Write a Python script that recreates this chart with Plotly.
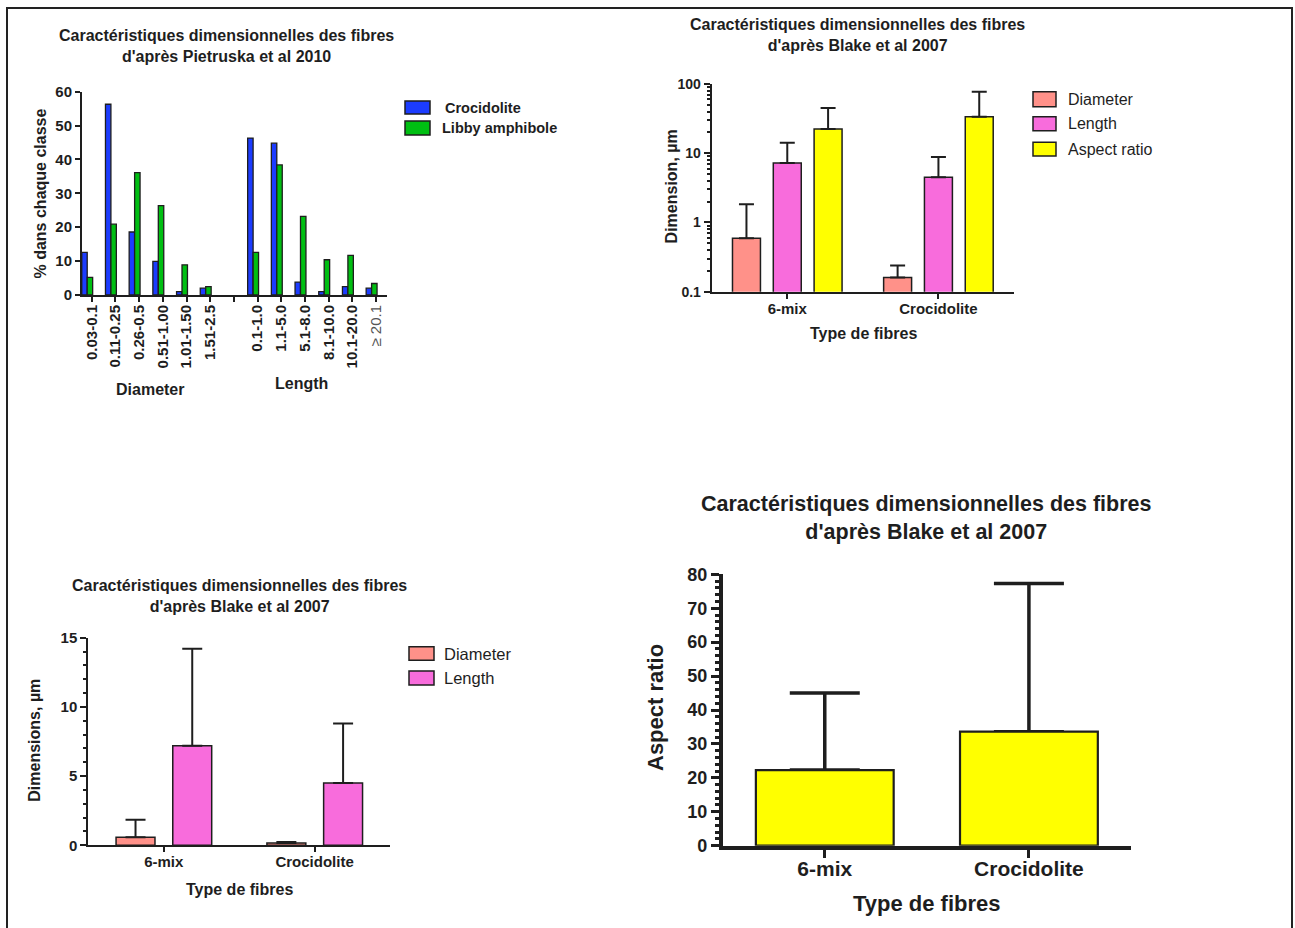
import plotly.graph_objects as go

W, H = 1295, 928


def px(x):
    return x / W


def py(y):
    return 1 - y / H


FONT = "Liberation Sans, Arial, sans-serif"
INK = "#1e1e1e"

# ---------------- Data: Pietruska et al 2010 ----------------
diam_classes = ["0.03-0.1", "0.11-0.25", "0.26-0.5", "0.51-1.00", "1.01-1.50", "1.51-2.5"]
len_classes = ["0.1-1.0", "1.1-5.0", "5.1-8.0", "8.1-10.0", "10.1-20.0", "≥ 20.1"]
croc_diam = [12.6, 56.3, 18.6, 9.9, 1.0, 2.0]
libby_diam = [5.2, 20.9, 36.1, 26.4, 8.9, 2.5]
croc_len = [46.3, 44.8, 3.8, 1.0, 2.5, 2.0]
libby_len = [12.6, 38.4, 23.2, 10.4, 11.7, 3.4]

# ---------------- Data: Blake et al 2007 ----------------
fibre_types = ["6-mix", "Crocidolite"]
diameter_mean = [0.59, 0.16]
diameter_sd = [1.25, 0.08]
length_mean = [7.2, 4.5]
length_sd = [7.0, 4.3]
aspect_mean = [22.3, 33.6]
aspect_sd = [22.7, 43.7]

C_CROC = "#1c3cff"
C_LIBBY = "#00bf12"
C_DIAM = "#ff9189"
C_LEN = "#f86cdc"
C_ASP = "#ffff00"

fig = go.Figure()

# ---------- Chart 1 (top-left) ----------
pos1 = list(range(len(diam_classes))) + [len(diam_classes) + 1 + i for i in range(len(len_classes))]
fig.add_trace(go.Bar(x=pos1, y=croc_diam + croc_len, name="Crocidolite",
                     width=0.23, offset=-0.23, marker=dict(color=C_CROC, line=dict(color=INK, width=1.3)),
                     xaxis="x", yaxis="y", showlegend=False))
fig.add_trace(go.Bar(x=pos1, y=libby_diam + libby_len, name="Libby amphibole",
                     width=0.23, offset=0.0, marker=dict(color=C_LIBBY, line=dict(color=INK, width=1.3)),
                     xaxis="x", yaxis="y", showlegend=False))

ticktext1 = diam_classes + [""] + len_classes[:-1] + [
    '<span style="font-weight:normal;color:#555">' + len_classes[-1] + "</span>"]
tickvals1 = [k + 0.19 for k in range(len(ticktext1))]

# ---------- Chart 2 (top-right, log) ----------
err_common = dict(type="data", symmetric=False, arrayminus=[0, 0], color=INK)
for name, m, s, col, off in [("Diameter", diameter_mean, diameter_sd, C_DIAM, -0.3625),
                             ("Length", length_mean, length_sd, C_LEN, -0.0925),
                             ("Aspect ratio", aspect_mean, aspect_sd, C_ASP, 0.1775)]:
    fig.add_trace(go.Bar(x=fibre_types, y=m, name=name, width=0.185, offset=off,
                         marker=dict(color=col, line=dict(color=INK, width=1.5)),
                         error_y=dict(array=s, thickness=2, width=7.5, **err_common),
                         xaxis="x2", yaxis="y2", showlegend=False))

# ---------- Chart 3 (bottom-left, linear) ----------
for name, m, s, col, off in [("Diameter", diameter_mean, diameter_sd, C_DIAM, -0.316),
                             ("Length", length_mean, length_sd, C_LEN, 0.06)]:
    fig.add_trace(go.Bar(x=fibre_types, y=m, name=name, width=0.258, offset=off,
                         marker=dict(color=col, line=dict(color=INK, width=1.5)),
                         error_y=dict(array=s, thickness=2, width=10, **err_common),
                         xaxis="x3", yaxis="y3", showlegend=False))

# ---------- Chart 4 (bottom-right, aspect ratio) ----------
# SD whiskers drawn first (transparent bar), so the yellow bar drawn next hides the lower cap
fig.add_trace(go.Bar(x=fibre_types, y=aspect_mean, name="Aspect ratio SD", width=0.675, offset=-0.3375,
                     marker=dict(color="rgba(0,0,0,0)", line=dict(width=0)),
                     error_y=dict(array=aspect_sd, thickness=3.5, width=35, **err_common),
                     xaxis="x4", yaxis="y4", showlegend=False, hoverinfo="skip"))
fig.add_trace(go.Bar(x=fibre_types, y=aspect_mean, name="Aspect ratio", width=0.675, offset=-0.3375,
                     marker=dict(color=C_ASP, line=dict(color=INK, width=2.2)),
                     xaxis="x4", yaxis="y4", showlegend=False))


def tf(size, bold=True):
    return dict(family=FONT, size=size, color=INK, weight="bold" if bold else "normal")


axis_base = dict(showgrid=False, zeroline=False, showline=True, linecolor=INK, ticks="outside",
                 tickcolor=INK, fixedrange=True, automargin=False)

log_minor = [m * 10 ** e for e in (-1, 0, 1) for m in range(2, 10)]

fig.update_layout(
    width=W, height=H, margin=dict(l=0, r=0, t=0, b=0, pad=0, autoexpand=False),
    paper_bgcolor="white", plot_bgcolor="rgba(0,0,0,0)",
    barmode="overlay", showlegend=False,
    xaxis=dict(axis_base, domain=[px(82), px(387)], anchor="y", range=[-0.22, 12.65],
               tickmode="array", tickvals=tickvals1, ticktext=ticktext1, tickangle=-90,
               linewidth=2, ticklen=5, tickwidth=2, tickfont=tf(15), ticklabelstandoff=-3),
    yaxis=dict(axis_base, domain=[py(295), py(91.7)], anchor="x", range=[0, 60], dtick=10,
               linewidth=2, ticklen=5, tickwidth=2, tickfont=tf(15)),
    xaxis2=dict(axis_base, domain=[px(711.7), px(1014)], anchor="y2", type="category", range=[-0.5, 1.5],
                linewidth=2, ticklen=5, tickwidth=2, tickfont=tf(15), ticklabelstandoff=-3),
    yaxis2=dict(axis_base, domain=[py(291.7), py(84)], anchor="x2", type="log", range=[-1, 2],
                tickmode="array", tickvals=[0.1, 1, 10, 100], ticktext=["0.1", "1", "10", "100"],
                linewidth=2, ticklen=6, tickwidth=2, tickfont=tf(14),
                minor=dict(tickmode="array", tickvals=log_minor, ticks="outside", ticklen=3,
                           tickwidth=1.5, tickcolor=INK)),
    xaxis3=dict(axis_base, domain=[px(88.3), px(390)], anchor="y3", type="category", range=[-0.5, 1.5],
                linewidth=2, ticklen=5, tickwidth=2, tickfont=tf(15), ticklabelstandoff=-3),
    yaxis3=dict(axis_base, domain=[py(845.3), py(637.7)], anchor="x3", range=[0, 15], dtick=5,
                linewidth=2, ticklen=6, tickwidth=2, tickfont=tf(15),
                minor=dict(dtick=1, ticks="outside", ticklen=3, tickwidth=1.5, tickcolor=INK)),
    xaxis4=dict(axis_base, domain=[px(722.7), px(1131)], anchor="y4", type="category", range=[-0.5, 1.5],
                linewidth=3.5, ticklen=9, tickwidth=3, tickfont=tf(21), ticklabelstandoff=-8),
    yaxis4=dict(axis_base, domain=[py(845.7), py(574.3)], anchor="x4", range=[0, 80], dtick=10,
                linewidth=3.5, ticklen=8, tickwidth=3, tickfont=tf(18),
                minor=dict(dtick=2, ticks="outside", ticklen=4, tickwidth=2.5, tickcolor=INK)),
)

annotations = []


def ann(text, x, y, size, bold=True, angle=0, xanchor="center"):
    annotations.append(dict(text=text, x=px(x), y=py(y), xref="paper", yref="paper",
                            xanchor=xanchor, yanchor="middle", showarrow=False, textangle=angle,
                            font=tf(size, bold)))


# Titles
ann("Caractéristiques dimensionnelles des fibres<br>d'après Pietruska et al 2010", 226, 46.5, 16)
ann("Caractéristiques dimensionnelles des fibres<br>d'après Blake et al 2007", 857, 34.7, 16)
ann("Caractéristiques dimensionnelles des fibres<br>d'après Blake et al 2007", 239.5, 596.3, 16)
ann("Caractéristiques dimensionnelles des fibres<br>d'après Blake et al 2007", 926.7, 518.3, 21.5)

# Axis titles
ann("% dans chaque classe", 40, 193.5, 16, angle=-90)
ann("Diameter", 150, 389, 16)
ann("Length", 301, 383, 16)
ann("Dimension, µm", 671.7, 186.7, 16, angle=-90)
ann("Type de fibres", 863, 333.3, 16)
ann("Dimensions, µm", 35, 740.7, 16, angle=-90)
ann("Type de fibres", 239.3, 889.3, 16)
ann("Aspect ratio", 655, 708, 22, angle=-90)
ann("Type de fibres", 926.7, 903.3, 22)

shapes = []


def legend_box(x0, y0, x1, y1, color):
    shapes.append(dict(type="rect", xref="paper", yref="paper", x0=px(x0), x1=px(x1), y0=py(y1), y1=py(y0),
                       fillcolor=color, line=dict(color=INK, width=1.5)))


# Legend chart 1
legend_box(405, 101, 430, 114, C_CROC)
legend_box(405, 121, 430, 135, C_LIBBY)
ann("Crocidolite", 443, 107.5, 14.5, xanchor="left")
ann("Libby amphibole", 440, 128, 14.5, xanchor="left")

# Legend chart 2
for (y0, y1), col, lab in zip([(91.7, 106.7), (116.7, 130.7), (142.3, 156)], [C_DIAM, C_LEN, C_ASP],
                              ["Diameter", "Length", "Aspect ratio"]):
    legend_box(1033, y0, 1056, y1, col)
    ann(lab, 1066, (y0 + y1) / 2, 16, bold=False, xanchor="left")

# Legend chart 3
for (y0, y1), col, lab in zip([(646.7, 660.3), (671, 685)], [C_DIAM, C_LEN], ["Diameter", "Length"]):
    legend_box(409, y0, 434, y1, col)
    ann(lab, 442, (y0 + y1) / 2, 16.5, bold=False, xanchor="left")

# Outer frame
shapes.append(dict(type="rect", xref="paper", yref="paper", x0=px(7), x1=px(1292), y0=-0.02, y1=py(8),
                   line=dict(color="#222", width=2), fillcolor="rgba(0,0,0,0)", layer="below"))

fig.update_layout(annotations=annotations, shapes=shapes)

fig.write_html("out.html")
